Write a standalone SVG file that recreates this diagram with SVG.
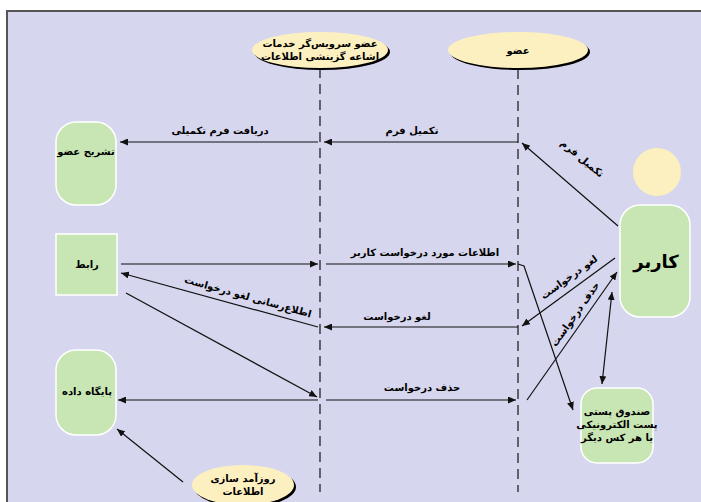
<svg xmlns="http://www.w3.org/2000/svg" width="701" height="502" viewBox="0 0 701 502">
<style>
.t{font-family:"DejaVu Sans","Noto Sans",sans-serif;font-weight:bold;font-size:10px;fill:#000;text-anchor:middle}
.c{stroke:#111;stroke-width:1.2;fill:none}
.life{stroke:#222;stroke-width:1.3;stroke-dasharray:10,6;fill:none}
.g{fill:#c8e6b4;stroke:#fff;stroke-width:1.5}
.y{fill:#fdf0c0}
.sh{fill:#000}
</style>
<defs>
<marker id="a" viewBox="0 0 8 7" refX="8" refY="3.5" markerWidth="8" markerHeight="7" markerUnits="userSpaceOnUse" orient="auto"><path d="M0,0 L8,3.5 L0,7 z" fill="#111"/></marker>
<marker id="s" viewBox="0 0 8 7" refX="0" refY="3.5" markerWidth="8" markerHeight="7" markerUnits="userSpaceOnUse" orient="auto"><path d="M8,0 L0,3.5 L8,7 z" fill="#111"/></marker>
</defs>
<rect x="0" y="0" width="701" height="502" fill="#fff"/>
<rect x="7" y="11" width="720" height="520" fill="#d6d6ee" stroke="#555" stroke-width="2"/>

<g id="lifelines">
<line class="life" x1="320" y1="68" x2="320" y2="492"/>
<line class="life" x1="518" y1="69" x2="518" y2="492"/>
</g>

<g id="sdi">
<ellipse class="sh" cx="322" cy="52" rx="68" ry="18"/>
<ellipse class="y" cx="320" cy="50" rx="68" ry="18"/>
<text class="t" x="320" y="47">عضو سرویس‌گر خدمات</text>
<text class="t" x="320" y="60">اشاعه گزینشی اطلاعات</text>
</g>
<g id="member">
<ellipse class="sh" cx="520" cy="52" rx="70" ry="18"/>
<ellipse class="y" cx="518" cy="50" rx="70" ry="18"/>
<text class="t" x="518" y="54">عضو</text>
</g>

<g id="describe">
<rect class="g" x="56" y="122" width="60" height="83" rx="20" ry="20"/>
<text class="t" x="86" y="155">تشریح عضو</text>
</g>
<g id="interface">
<rect class="g" x="56" y="234" width="61" height="61"/>
<text class="t" x="87" y="268">رابط</text>
</g>
<g id="database">
<rect class="g" x="56" y="350" width="60" height="85" rx="20" ry="20"/>
<text class="t" x="87" y="395">پایگاه داده</text>
</g>
<g id="user">
<circle class="y" cx="657" cy="172" r="24"/>
<rect class="g" x="620" y="205" width="70" height="112" rx="20" ry="20"/>
<text class="t" x="656" y="268" style="font-size:18px">کاربر</text>
</g>
<g id="mailbox">
<rect class="g" x="581" y="388" width="72" height="75" rx="16" ry="16"/>
<text class="t" x="617" y="415">صندوق پستی</text>
<text class="t" x="617" y="428">پست الکترونیکی</text>
<text class="t" x="617" y="441">یا هر کس دیگر</text>
</g>
<g id="update">
<ellipse class="sh" cx="245" cy="487" rx="51" ry="20"/>
<ellipse class="y" cx="243" cy="485" rx="51" ry="20"/>
<text class="t" x="243" y="482">روزآمد سازی</text>
<text class="t" x="243" y="495">اطلاعات</text>
</g>

<g id="connectors">
<line class="c" x1="518" y1="142" x2="324" y2="142" marker-end="url(#a)"/>
<line class="c" x1="318" y1="142" x2="120" y2="142" marker-end="url(#a)"/>
<line class="c" x1="618" y1="226" x2="522" y2="143" marker-end="url(#a)"/>
<line class="c" x1="121" y1="264" x2="318" y2="264" marker-end="url(#a)"/>
<line class="c" x1="326" y1="264" x2="516" y2="264" marker-end="url(#a)"/>
<path class="c" d="M518,264 L524,266 L573,410" marker-end="url(#a)"/>
<line class="c" x1="615" y1="258" x2="522" y2="326" marker-end="url(#a)"/>
<line class="c" x1="518" y1="327" x2="324" y2="327" marker-end="url(#a)"/>
<line class="c" x1="318" y1="327" x2="121" y2="273" marker-end="url(#a)"/>
<line class="c" x1="126" y1="293" x2="317" y2="397" marker-end="url(#a)"/>
<line class="c" x1="318" y1="400" x2="118" y2="400" marker-end="url(#a)"/>
<line class="c" x1="326" y1="400" x2="516" y2="400" marker-end="url(#a)"/>
<line class="c" x1="527" y1="400" x2="617" y2="272" marker-end="url(#a)"/>
<line class="c" x1="612" y1="292" x2="602" y2="384" marker-start="url(#s)" marker-end="url(#a)"/>
<line class="c" x1="183" y1="482" x2="117" y2="429" marker-end="url(#a)"/>
</g>

<g id="labels">
<text class="t" x="220" y="134">دریافت فرم تکمیلی</text>
<text class="t" x="412" y="134">تکمیل فرم</text>
<text class="t" x="425" y="256">اطلاعات مورد درخواست کاربر</text>
<text class="t" x="397" y="320">لغو درخواست</text>
<text class="t" x="422" y="391">حذف درخواست</text>
<text class="t" x="247" y="300" transform="rotate(15.5 247 300)">اطلاع‌رسانی لغو درخواست</text>
<text class="t" x="580" y="161" transform="rotate(40 580 161)">تکمیل فرم</text>
<text class="t" x="571" y="280" transform="rotate(-36 571 280)">لغو درخواست</text>
<text class="t" x="578" y="316" transform="rotate(-55 578 316)">حذف درخواست</text>
</g>
</svg>
